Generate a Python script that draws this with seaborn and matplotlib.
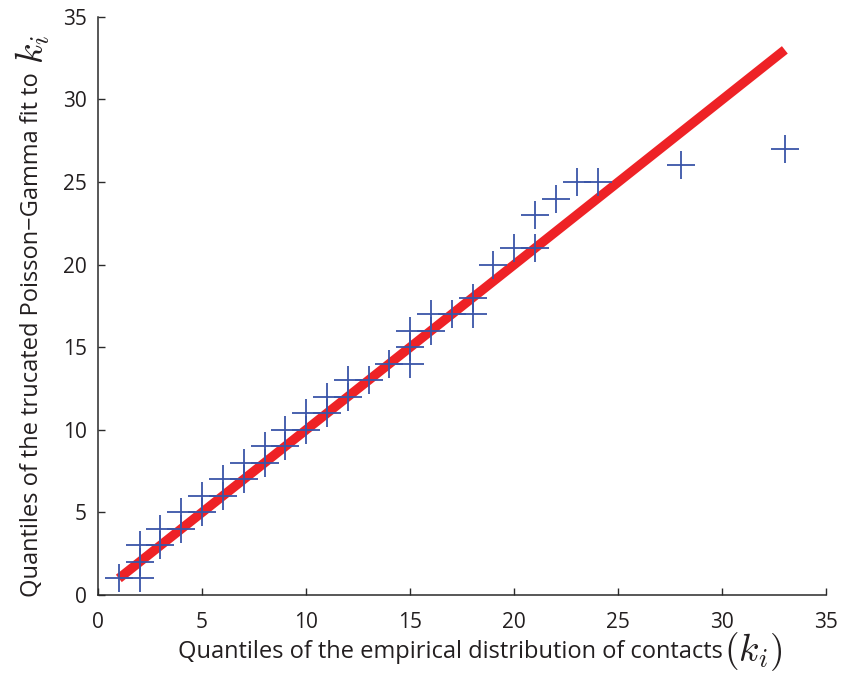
import matplotlib
matplotlib.use("Agg")
import matplotlib.pyplot as plt
import seaborn as sns
import pandas as pd

# Quantile pairs: empirical contacts vs. truncated Poisson-Gamma fit
empirical_q = [1, 2, 2, 2, 3, 3, 4, 4, 5, 5, 6, 6, 7, 7, 8, 8, 9, 9, 10, 10,
               11, 11, 12, 12, 13, 14, 15, 15, 15, 16, 16, 17, 18, 18, 19, 20,
               21, 21, 22, 23, 24, 28, 33]
fitted_q = [1, 1, 2, 3, 3, 4, 4, 5, 5, 6, 6, 7, 7, 8, 8, 9, 9, 10, 10, 11,
            11, 12, 12, 13, 13, 14, 14, 15, 16, 16, 17, 17, 17, 18, 20, 21,
            21, 23, 24, 25, 25, 26, 27]

# Reference line y = x across the data range
ref_x = [1, 33]
ref_y = [1, 33]

ticks = [0, 5, 10, 15, 20, 25, 30, 35]

sns.set_style("ticks")
plt.rcParams["font.family"] = ["Open Sans", "DejaVu Sans"]
plt.rcParams["mathtext.fontset"] = "cm"

fig = plt.figure(figsize=(8.6, 6.73), dpi=100)
ax = fig.add_axes([0.114, 0.116, 0.847, 0.859])

df = pd.DataFrame({"emp": empirical_q, "fit": fitted_q})
ref = pd.DataFrame({"x": ref_x, "y": ref_y})

sns.scatterplot(data=df, x="emp", y="fit", marker="+", s=400,
                color="#3a55a8", linewidth=1.3, ax=ax, zorder=3)
sns.lineplot(data=ref, x="x", y="y", color="#ee2226", linewidth=6.8,
             ax=ax, zorder=2, solid_capstyle="butt")

ax.set_xlim(0, 35)
ax.set_ylim(0, 35)
ax.set_xticks(ticks)
ax.set_yticks(ticks)
ax.set_xticklabels([str(t) for t in ticks])
ax.set_yticklabels([str(t) for t in ticks])

for side in ("top", "right"):
    ax.spines[side].set_visible(False)
for side in ("left", "bottom"):
    ax.spines[side].set_linewidth(1.1)
    ax.spines[side].set_color("#2a2a2a")

ax.tick_params(direction="in", length=5, width=1.0, colors="#2a2a2a",
               labelsize=15, labelcolor="#231f20")
ax.tick_params(axis="x", pad=12)
ax.tick_params(axis="y", pad=8)

xl = ax.set_xlabel("Quantiles of the empirical distribution of contacts",
                   fontsize=17, color="#231f20")
ax.xaxis.set_label_coords(0.4835, -0.078)
yl = ax.set_ylabel("Quantiles of the trucated Poisson\u2212Gamma fit to",
                   fontsize=17, color="#231f20")
ax.yaxis.set_label_coords(-0.074, 0.45)

fig.canvas.draw()
ax.annotate(r"$(k_i)$", xy=(1.0, 0.5), xycoords=xl, xytext=(1, 0),
            textcoords="offset points", ha="left", va="center",
            fontsize=27, color="#231f20")
ax.annotate(r"$k_i$", xy=(0.5, 1.0), xycoords=yl, xytext=(1, 6),
            textcoords="offset points", ha="center", va="bottom",
            rotation=90, fontsize=27, color="#231f20")

fig.savefig("out.png", dpi=100)
